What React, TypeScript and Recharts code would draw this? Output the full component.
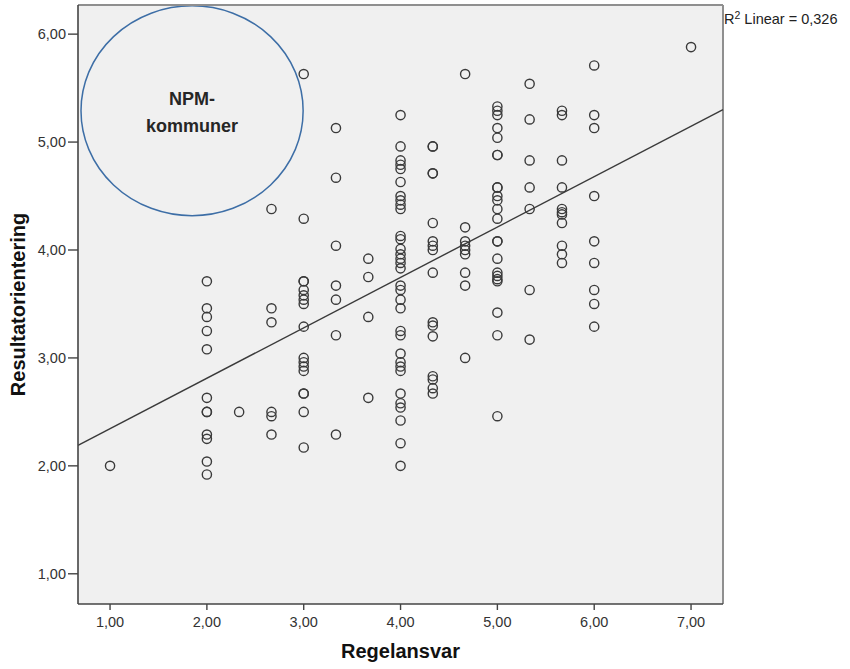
import React from "react";
import {
  ScatterChart,
  Scatter,
  XAxis,
  YAxis,
  ReferenceArea,
  ReferenceLine,
} from "recharts";

// ---- Data ----
const regelansvarLevels = [1.0, 2.0, 2.333, 2.667, 3.0, 3.333, 3.667, 4.0, 4.333, 4.667, 5.0, 5.333, 5.667, 6.0, 7.0];

const res_1_00 = [2.0];
const res_2_00 = [3.71, 3.46, 3.38, 3.25, 3.08, 2.63, 2.5, 2.5, 2.29, 2.25, 2.04, 1.92];
const res_2_33 = [2.5];
const res_2_67 = [4.38, 3.46, 3.33, 2.5, 2.46, 2.29];
const res_3_00 = [5.63, 4.29, 3.71, 3.71, 3.63, 3.58, 3.54, 3.5, 3.29, 3.0, 2.96, 2.92, 2.88, 2.67, 2.67, 2.5, 2.17];
const res_3_33 = [5.13, 4.67, 4.04, 3.67, 3.54, 3.21, 2.29];
const res_3_67 = [3.92, 3.75, 3.38, 2.63];
const res_4_00 = [5.25, 4.96, 4.83, 4.79, 4.75, 4.63, 4.5, 4.46, 4.42, 4.38, 4.13, 4.1, 4.01, 3.96, 3.92, 3.88, 3.83, 3.67, 3.63, 3.54, 3.46, 3.25, 3.21, 3.04, 2.96, 2.92, 2.88, 2.67, 2.58, 2.54, 2.42, 2.21, 2.0];
const res_4_33 = [4.96, 4.96, 4.71, 4.71, 4.25, 4.08, 4.04, 4.0, 3.79, 3.33, 3.3, 3.2, 2.83, 2.8, 2.72, 2.67];
const res_4_67 = [5.63, 4.21, 4.08, 4.04, 4.0, 3.96, 3.79, 3.67, 3.0];
const res_5_00 = [5.33, 5.29, 5.25, 5.13, 5.04, 4.88, 4.88, 4.58, 4.58, 4.5, 4.46, 4.38, 4.29, 4.08, 4.08, 3.92, 3.79, 3.76, 3.73, 3.71, 3.42, 3.21, 2.46];
const res_5_33 = [5.54, 5.21, 4.83, 4.58, 4.38, 3.63, 3.17];
const res_5_67 = [5.29, 5.25, 4.83, 4.58, 4.38, 4.35, 4.33, 4.25, 4.04, 3.96, 3.88];
const res_6_00 = [5.71, 5.25, 5.13, 4.5, 4.08, 3.88, 3.63, 3.5, 3.29];
const res_7_00 = [5.88];

const resultatByLevel = [
  res_1_00, res_2_00, res_2_33, res_2_67, res_3_00, res_3_33, res_3_67,
  res_4_00, res_4_33, res_4_67, res_5_00, res_5_33, res_5_67, res_6_00, res_7_00,
];

const xTicks = [1, 2, 3, 4, 5, 6, 7];
const yTicks = [1, 2, 3, 4, 5, 6];

// Fit line (R² Linear = 0,326)
const fitIntercept = 1.878;
const fitSlope = 0.467;
const r2Text = "0,326";

// Annotation ellipse extent (data units)
const npmX = [0.7, 2.994];
const npmY = [4.318, 6.262];

const X_MIN = 0.669;
const X_MAX = 7.33;
const Y_MIN = 0.72;
const Y_MAX = 6.27;

const points = regelansvarLevels.flatMap((x, i) =>
  resultatByLevel[i].map((y) => ({ x, y }))
);

const FONT = '"Liberation Sans", Arial, sans-serif';
const fmt = (v: number) => v.toFixed(2).replace(".", ",");

const HollowDot = (p: any) => (
  <circle cx={p.cx} cy={p.cy} r={4.6} fill="none" stroke="#3a3a3a" strokeWidth={1.4} />
);

const NpmShape = (p: any) => {
  const cx = p.x + p.width / 2;
  const cy = p.y + p.height / 2;
  return (
    <g>
      <ellipse
        cx={cx}
        cy={cy}
        rx={Math.abs(p.width) / 2}
        ry={Math.abs(p.height) / 2}
        fill="none"
        stroke="#3d6ea6"
        strokeWidth={1.5}
      />
      <text x={cx} y={cy - 6} textAnchor="middle" fontFamily={FONT} fontWeight="bold" fontSize={18} fill="#262626">
        NPM-
      </text>
      <text x={cx} y={cy + 21} textAnchor="middle" fontFamily={FONT} fontWeight="bold" fontSize={18} fill="#262626">
        kommuner
      </text>
    </g>
  );
};

export default function App() {
  return (
    <div style={{ position: "absolute", left: 0, top: 0, width: 850, height: 669, background: "#fff" }}>
      <ScatterChart
        width={850}
        height={669}
        margin={{ top: 5, right: 127, bottom: 0, left: 0 }}
      >
        <ReferenceArea
          x1={X_MIN}
          x2={X_MAX}
          y1={Y_MIN}
          y2={Y_MAX}
          fill="#f0f0f0"
          fillOpacity={1}
          stroke="none"
        />
        <XAxis
          type="number"
          dataKey="x"
          domain={[X_MIN, X_MAX]}
          ticks={xTicks}
          allowDataOverflow
          height={65}
          tickSize={6}
          tickMargin={7}
          tickFormatter={fmt}
          tick={{ fontFamily: FONT, fontSize: 14.5, fill: "#333" }}
          axisLine={{ stroke: "#444", strokeWidth: 1.6 }}
          tickLine={{ stroke: "#444", strokeWidth: 1.4 }}
          label={{
            content: (props: any) => {
              const vb = props.viewBox || {};
              return (
                <text
                  x={vb.x + vb.width / 2}
                  y={vb.y + 54}
                  textAnchor="middle"
                  fontFamily={FONT}
                  fontWeight="bold"
                  fontSize={20}
                  fill="#111"
                >
                  Regelansvar
                </text>
              );
            },
          }}
        />
        <YAxis
          type="number"
          dataKey="y"
          domain={[Y_MIN, Y_MAX]}
          ticks={yTicks}
          allowDataOverflow
          width={78}
          tickSize={10}
          tickMargin={2}
          tickFormatter={fmt}
          tick={{ fontFamily: FONT, fontSize: 14.5, fill: "#333" }}
          axisLine={{ stroke: "#444", strokeWidth: 1.6 }}
          tickLine={{ stroke: "#444", strokeWidth: 1.4 }}
          label={{
            content: (props: any) => {
              const vb = props.viewBox || {};
              const cx = 18;
              const cy = vb.y + vb.height / 2;
              return (
                <text
                  x={cx}
                  y={cy}
                  transform={`rotate(-90, ${cx}, ${cy})`}
                  textAnchor="middle"
                  dominantBaseline="central"
                  fontFamily={FONT}
                  fontWeight="bold"
                  fontSize={20}
                  fill="#111"
                >
                  Resultatorientering
                </text>
              );
            },
          }}
        />
        <ReferenceLine y={Y_MAX} stroke="#8f8f8f" strokeWidth={2} />
        <ReferenceLine
          x={X_MAX}
          stroke="#8f8f8f"
          strokeWidth={2}
          label={{
            content: (props: any) => {
              const vb = props.viewBox || {};
              return (
                <text x={vb.x + 1} y={vb.y + 19} fontFamily={FONT} fontSize={14.5} fill="#222">
                  R
                  <tspan fontSize={10.5} dy={-5}>2</tspan>
                  <tspan dy={5}>{` Linear = ${r2Text}`}</tspan>
                </text>
              );
            },
          }}
        />
        <ReferenceLine
          segment={[
            { x: X_MIN, y: fitIntercept + fitSlope * X_MIN },
            { x: X_MAX, y: fitIntercept + fitSlope * X_MAX },
          ]}
          stroke="#3a3a3a"
          strokeWidth={1.4}
        />
        <ReferenceArea
          x1={npmX[0]}
          x2={npmX[1]}
          y1={npmY[0]}
          y2={npmY[1]}
          shape={NpmShape}
        />
        <Scatter data={points} shape={HollowDot} isAnimationActive={false} />
      </ScatterChart>
    </div>
  );
}
